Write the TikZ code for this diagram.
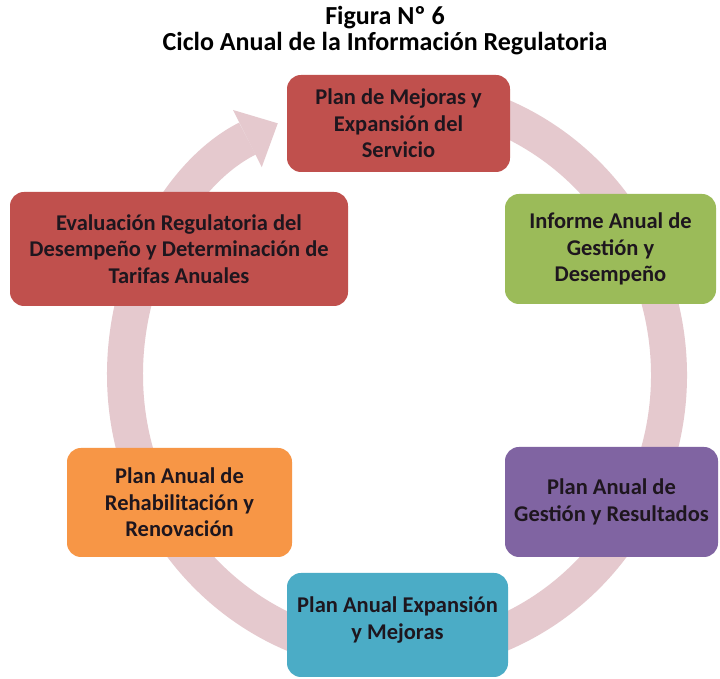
\documentclass[tikz,border=0pt]{standalone}
\usepackage{fontspec}
\setmainfont{Carlito}
\usepackage{tikz}
\usetikzlibrary{arrows.meta}

\definecolor{ringpink}{RGB}{229,201,206}
\definecolor{boxred}{RGB}{192,80,77}
\definecolor{boxgreen}{RGB}{155,187,89}
\definecolor{boxpurple}{RGB}{128,100,162}
\definecolor{boxcyan}{RGB}{75,172,198}
\definecolor{boxorange}{RGB}{247,150,70}
\definecolor{textdark}{RGB}{30,22,30}

\begin{document}
\begin{tikzpicture}[x=1pt,y=1pt]
      \tikzstyle{box}=[
        rectangle,
        rounded corners=14pt,
        align=center,
        inner sep=0pt,
        text=textdark,
        font=\fontsize{22.5}{26.5}\selectfont\bfseries,
      ]
      \tikzstyle{ring}=[draw=ringpink, line width=36pt, -{Triangle[width=64pt,length=34pt,line width=0pt]}]

      \useasboundingbox (0,0) rectangle (720,679);
      \fill[white] (0,0) rectangle (720,679);

      \node[font=\fontsize{26}{26}\selectfont\bfseries, align=center] (title) at (385,648) {Figura Nº 6\\Ciclo Anual de la Información Regulatoria};

      % the cycle behind the boxes
      \draw[ring] (397,304) ++(95:272 and 280) arc[start angle=95, end angle=-244, x radius=272, y radius=280];

      \node[box, fill=boxred, minimum width=223, minimum height=97] (b1) at (398.5,555.5) {Plan de Mejoras y\\Expansión del\\Servicio};
      \node[box, fill=boxgreen, minimum width=211, minimum height=110] (b2) at (610.5,430) {Informe Anual de\\Gestión y\\Desempeño};
      \node[box, fill=boxpurple, minimum width=213, minimum height=110] (b3) at (611.5,177) {Plan Anual de\\Gestión y Resultados};
      \node[box, fill=boxcyan, minimum width=221, minimum height=104, text depth=14pt] (b4) at (397.5,54) {Plan Anual Expansión\\y Mejoras};
      \node[box, fill=boxorange, minimum width=225, minimum height=109] (b5) at (179.5,176.5) {Plan Anual de\\Rehabilitación y\\Renovación};
      \node[box, fill=boxred, minimum width=338, minimum height=114] (b6) at (179,430) {Evaluación Regulatoria del\\Desempeño y Determinación de\\Tarifas Anuales};
    \end{tikzpicture}
\end{document}
